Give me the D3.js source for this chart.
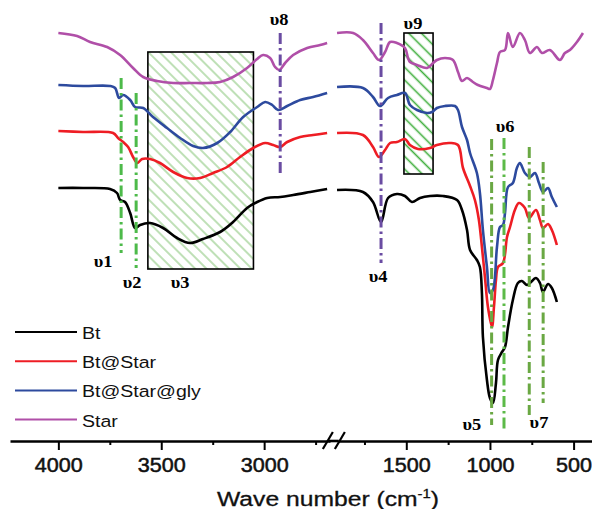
<!DOCTYPE html>
<html>
<head>
<meta charset="utf-8">
<script src="https://cdn.jsdelivr.net/npm/d3@7"></script>
<style>
  html, body { margin: 0; padding: 0; background: #fff; }
  svg { display: block; }
</style>
</head>
<body>
<div id="chart"></div>
<script>
// Spectra as [wave number (cm-1), transmittance (a.u., offset)] pairs.
// Left panel 4000-2700, right panel 1900-450 (broken axis).
const btLeft = [[4000,252],[3880,252],[3749,251],[3715,247],[3700,240],[3676,238],[3651,227],[3627,212],
  [3603,215],[3554,217],[3491,212],[3423,202],[3360,197],[3297,201],[3214,208],[3151,218],[3083,232],
  [3034,238],[2985,242],[2922,243],[2859,245],[2776,248],[2694,251]];
const btRight = [[1914,250],[1759,248],[1699,238],[1651,218],[1609,242],[1556,246],[1508,244],[1466,238],
  [1418,242],[1358,244],[1281,244],[1197,240],[1167,230],[1137,210],[1119,190],[1078,180],[1060,173],
  [1048,147],[1042,103],[1018,60],[1000,42],[982,37],[964,57],[952,80],[928,88],[910,93],[892,113],
  [863,140],[833,157],[809,159],[779,155],[761,157],[725,162],[701,157],[683,148],[653,156],[630,152],[600,138]];

const starBtLeft = [[4000,309],[3880,308],[3734,307],[3710,302],[3685,298],[3661,293],[3637,283],[3617,277],
  [3593,281],[3554,281],[3506,277],[3442,268],[3374,262],[3311,262],[3248,267],[3180,273],[3117,283],
  [3053,292],[2995,297],[2956,295],[2922,293],[2888,298],[2825,303],[2762,305],[2694,307]];
const starBtRight = [[1914,307],[1759,305],[1699,293],[1663,283],[1627,290],[1597,297],[1556,298],[1508,301],
  [1478,295],[1430,291],[1358,292],[1317,295],[1239,297],[1191,295],[1161,272],[1119,254],[1090,240],
  [1066,220],[1048,193],[1030,163],[1012,133],[988,113],[976,133],[964,160],[952,173],[922,177],[898,203],
  [880,213],[851,230],[827,237],[791,232],[767,222],[725,230],[701,220],[683,212],[653,216],[630,210],[600,195]];

const glyLeft = [[4000,355],[3880,354],[3749,354],[3724,352],[3705,342],[3685,345],[3651,340],[3627,333],
  [3588,332],[3540,323],[3472,312],[3408,302],[3345,294],[3297,292],[3228,297],[3165,308],[3102,323],
  [3034,333],[2995,338],[2961,335],[2932,330],[2888,334],[2825,340],[2762,343],[2694,347]];
const glyRight = [[1914,353],[1759,352],[1699,343],[1657,334],[1609,342],[1556,345],[1508,347],[1478,335],
  [1436,330],[1376,327],[1346,328],[1317,332],[1269,334],[1209,334],[1191,330],[1167,313],[1137,300],
  [1119,287],[1078,267],[1060,247],[1042,210],[1018,173],[1000,147],[982,150],[958,193],[940,213],
  [922,215],[910,227],[892,253],[863,257],[839,272],[821,277],[791,267],[761,263],[731,267],[707,257],
  [683,248],[653,252],[630,243],[600,233]];

const starLeft = [[4000,407],[3909,404],[3846,398],[3763,393],[3700,385],[3637,372],[3588,363],[3520,359],
  [3442,357],[3360,357],[3277,357],[3214,358],[3151,363],[3083,372],[3034,381],[3005,385],[2971,382],
  [2947,373],[2927,370],[2898,377],[2859,385],[2791,392],[2728,395],[2694,397]];
const starRight = [[1914,407],[1818,407],[1759,400],[1699,387],[1663,380],[1627,388],[1597,398],[1556,397],
  [1508,392],[1490,382],[1478,378],[1436,375],[1376,372],[1340,377],[1317,380],[1269,382],[1221,380],
  [1191,368],[1167,359],[1137,362],[1102,358],[1072,355],[1018,352],[1000,351],[982,360],[958,377],
  [940,388],[910,390],[892,407],[863,393],[821,407],[791,400],[761,387],[719,393],[689,387],[642,390],
  [582,380],[552,387],[522,390],[480,398],[444,407]];

const seriesNames = ['Bt', 'Bt@Star', 'Bt@Star@gly', 'Star'];
const seriesColors = ['#000000', '#ee1d24', '#2d4a9e', '#b04fa8'];
const seriesLeft = [btLeft, starBtLeft, glyLeft, starLeft];
const seriesRight = [btRight, starBtRight, glyRight, starRight];

const majorTicksLeft = [4000, 3500, 3000];
const minorTicksLeft = [3750, 3250, 2750];
const majorTicksRight = [1500, 1000, 500];
const minorTicksRight = [1750, 1250, 750];

// band marker lines: [wave number, top, bottom, colour]
const bandLines = [[3695, 362, 187, '#4dba4a'], [3622, 347, 172, '#4dba4a'], [2922, 407, 265, '#6a4ca2'],
  [1651, 417, 177, '#6a4ca2'], [990, 301, 15, '#6aa843'], [916, 302, 10, '#5cba48'],
  [765, 293, 25, '#6aa843'], [682, 278, 37, '#6aa843']];
// hatched boxes: [wn from, wn to, top, bottom]
const bandBoxes = [[3565, 3052, 388, 171, 'hatchLight'], [1514, 1340, 407, 266, 'hatchDark']];
// labels: [text, wave number, baseline]
const bandLabels = [['υ1', 3783, 173], ['υ2', 3642, 152], ['υ3', 3408, 152], ['υ8', 2927, 415],
  ['υ9', 1460, 411], ['υ4', 1669, 158], ['υ6', 910, 308], ['υ5', 1108, 10], ['υ7', 707, 12]];

const width = 592, height = 509;
const axisY = 441;

const svg = d3.select('#chart').append('svg')
  .attr('width', width).attr('height', height);

// 1. scales (broken x axis)
const xL = d3.scaleLinear().domain([4235, 2680]).range([10, 330]);
const xR = d3.scaleLinear().domain([1910, 390]).range([337.7, 592]);
const y = d3.scaleLinear().domain([0, 440]).range([440, 0]);
const isLeft = wn => wn > 2000;
const xAt = wn => isLeft(wn) ? xL(wn) : xR(wn);

// 2. hatch patterns
const defs = svg.append('defs');
defs.append('pattern').attr('id', 'hatchLight').attr('patternUnits', 'userSpaceOnUse')
  .attr('width', 8).attr('height', 8).attr('patternTransform', 'rotate(-45)')
  .append('line').attr('x1', 4).attr('y1', 0).attr('x2', 4).attr('y2', 8)
  .attr('stroke', '#a9d69f').attr('stroke-width', 1.5);
defs.append('pattern').attr('id', 'hatchDark').attr('patternUnits', 'userSpaceOnUse')
  .attr('width', 9).attr('height', 9).attr('patternTransform', 'rotate(-45)')
  .append('line').attr('x1', 4.5).attr('y1', 0).attr('x2', 4.5).attr('y2', 9)
  .attr('stroke', '#3fae3c').attr('stroke-width', 1.6);

svg.selectAll('rect.box').data(bandBoxes).enter().append('rect')
  .attr('class', 'box')
  .attr('x', d => xAt(d[0])).attr('y', d => y(d[2]))
  .attr('width', d => xAt(d[1]) - xAt(d[0])).attr('height', d => y(d[3]) - y(d[2]))
  .attr('fill', d => `url(#${d[4]})`)
  .attr('stroke', '#000').attr('stroke-width', 1.6);

// 3. spectra
const lineL = d3.line().x(d => xL(d[0])).y(d => y(d[1])).curve(d3.curveCatmullRom.alpha(0.5));
const lineR = d3.line().x(d => xR(d[0])).y(d => y(d[1])).curve(d3.curveCatmullRom.alpha(0.5));
seriesNames.forEach((name, i) => {
  [[lineL, seriesLeft[i]], [lineR, seriesRight[i]]].forEach(([gen, data]) => {
    svg.append('path').datum(data)
      .attr('d', gen)
      .attr('fill', 'none')
      .attr('stroke', seriesColors[i])
      .attr('stroke-width', 2.6)
      .attr('stroke-linejoin', 'round');
  });
});

// 4. band markers
svg.selectAll('line.band').data(bandLines).enter().append('line')
  .attr('class', 'band')
  .attr('x1', d => xAt(d[0])).attr('x2', d => xAt(d[0]))
  .attr('y1', d => y(d[1])).attr('y2', d => y(d[2]))
  .attr('stroke', d => d[3]).attr('stroke-width', 3)
  .attr('stroke-dasharray', '11,4,2.5,4');

svg.selectAll('text.band').data(bandLabels).enter().append('text')
  .attr('class', 'band')
  .attr('transform', d => `translate(${xAt(d[1])},${y(d[2])}) scale(1.15,1)`)
  .attr('text-anchor', 'middle')
  .style('font-family', '"Liberation Serif", "Times New Roman", serif')
  .style('font-weight', 'bold').style('font-size', '16px')
  .text(d => d[0]);

// 5. axes
function drawAxis(scale, major, minor) {
  svg.append('g').attr('transform', `translate(0,${axisY})`)
    .call(d3.axisBottom(scale).tickValues(minor).tickSize(4).tickSizeOuter(0).tickFormat(''))
    .call(g => g.select('.domain').remove())
    .call(g => g.selectAll('line').attr('stroke-width', 2));
  svg.append('g').attr('transform', `translate(0,${axisY})`)
    .call(d3.axisBottom(scale).tickValues(major).tickSize(9).tickSizeOuter(0).tickFormat(d3.format('d')))
    .call(g => g.select('.domain').attr('stroke-width', 2.6))
    .call(g => g.selectAll('line').attr('stroke-width', 2))
    .call(g => g.selectAll('text')
      .attr('y', 31).attr('dy', null)
      .attr('transform', 'scale(1.08,1)')
      .attr('fill', '#111').attr('stroke', '#111').attr('stroke-width', 0.5)
      .style('font-family', '"Liberation Sans", Arial, sans-serif')
      .style('font-size', '20px'));
}
drawAxis(xL, majorTicksLeft, minorTicksLeft);
drawAxis(xR, majorTicksRight, minorTicksRight);

// axis break
const bx = (xL.range()[1] + xR.range()[0]) / 2;
svg.append('line').attr('x1', xL.range()[1] - 1).attr('x2', xR.range()[0] + 1)
  .attr('y1', axisY).attr('y2', axisY).attr('stroke', '#000').attr('stroke-width', 2.6);
[-6, 6].forEach(dx => {
  svg.append('line')
    .attr('x1', bx + dx - 5).attr('y1', axisY + 8)
    .attr('x2', bx + dx + 5).attr('y2', axisY - 9)
    .attr('stroke', '#000').attr('stroke-width', 2.2);
});

const title = svg.append('text')
  .attr('x', 217).attr('y', 506)
  .attr('textLength', 222).attr('lengthAdjust', 'spacingAndGlyphs')
  .style('font-family', '"Liberation Sans", Arial, sans-serif')
  .style('font-size', '20px').attr('fill', '#111').attr('stroke', '#111').attr('stroke-width', 0.3);
title.append('tspan').text('Wave number (cm');
title.append('tspan').attr('dy', -8).style('font-size', '12px').text('-1');
title.append('tspan').attr('dy', 8).text(')');

// 6. legend
const legend = svg.append('g').selectAll('g').data(seriesNames).enter().append('g')
  .attr('transform', (d, i) => `translate(15,${332 + i * 29.2})`);
legend.append('line').attr('x1', 0).attr('x2', 62)
  .attr('stroke', (d, i) => seriesColors[i]).attr('stroke-width', 2);
legend.append('text')
  .attr('transform', 'translate(67,7) scale(1.15,1)')
  .style('font-family', '"Liberation Sans", Arial, sans-serif')
  .style('font-size', '17px').attr('fill', '#111')
  .text(d => d);
</script>
</body>
</html>
